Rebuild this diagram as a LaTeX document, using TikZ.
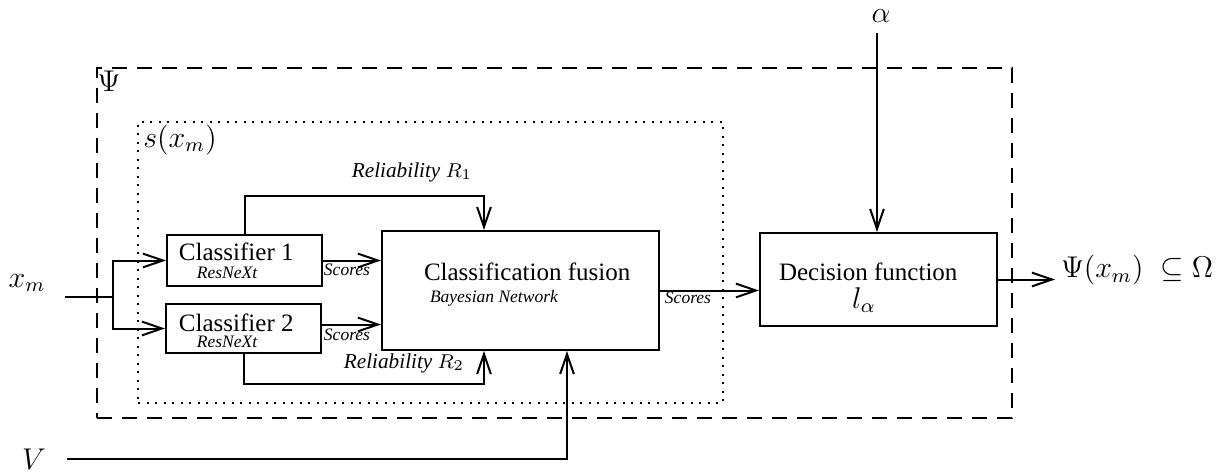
\documentclass[tikz,border=0pt]{standalone}
\usepackage[no-math]{fontspec}
\setmainfont{Liberation Serif}
\usetikzlibrary{arrows.meta,fit,calc}
\begin{document}
\begin{tikzpicture}[x=0.4pt,y=-0.4pt,
  line width=0.8pt,
  >={Straight Barb[length=8pt,width=5.5pt,line width=0.8pt]},
  box/.style={draw,inner sep=0pt},
  maintxt/.style={font=\fontsize{10}{12}\selectfont,inner sep=0pt},
  subtxt/.style={font=\fontsize{7}{8}\selectfont\itshape,inner sep=0pt},
  reltxt/.style={font=\fontsize{8.5}{10}\selectfont\itshape,inner sep=0pt},
  mathlbl/.style={font=\fontsize{12}{14}\selectfont,inner sep=0pt},
  outerbox/.style={draw,dash pattern=on 6pt off 4pt,line width=0.7pt},
  innerbox/.style={draw,dash pattern=on 0.8pt off 2.6pt,line width=0.8pt}
]
\useasboundingbox (0,0) rectangle (1229,473);
% containers
\node[outerbox,inner sep=0pt,fit={(97,68)(1012,418)}] (psi) {};
\node[innerbox,inner sep=0pt,fit={(138,122)(723,403)}] (sx) {};
\node[mathlbl] (psil) at (109,81) {$\Psi$};
\node[mathlbl] (sxl) at (180,140) {$s(x_m)$};
% blocks
\node[box,fit={(167,235)(322,286)}] (c1) {};
\node[box,fit={(166,304)(321,353)}] (c2) {};
\node[box,fit={(382,231)(659,350)}] (fus) {};
\node[box,fit={(760,233)(997,326)}] (dec) {};
% block texts
\node[maintxt,anchor=west] (c1t) at (178,252) {Classifier 1};
\node[subtxt] (c1s) at (227,273) {ResNeXt};
\node[maintxt,anchor=west] (c2t) at (178,323) {Classifier 2};
\node[subtxt] (c2s) at (227,342) {ResNeXt};
\node[maintxt,anchor=west] (fust) at (423,272) {Classification fusion};
\node[subtxt,anchor=west] (fuss) at (429,298) {Bayesian Network};
\node[maintxt,anchor=west] (dect) at (778,272) {Decision function};
\node[mathlbl] (decs) at (864,300) {$l_\alpha$};
% input / output labels
\node[mathlbl] (xm) at (27,283) {$x_m$};
\node[mathlbl] (vl) at (34,459) {$V$};
\node[mathlbl] (al) at (881,16) {$\alpha$};
\node[mathlbl,anchor=west] (outl) at (1060,270) {$\Psi(x_m)\;\subseteq\Omega$};
% connector coordinates
\coordinate (in) at (65,297);
\coordinate (split) at (113,297);
\coordinate (r1) at (484,196);
\coordinate (r2) at (484,384);
\coordinate (v) at (67,459);
\coordinate (vc) at (567,459);
\coordinate (a) at (877,33);
\coordinate (out) at (1055,279.5);
% connectors
\draw (in) -- (split);
\draw[->] (split) |- (c1.west);
\draw[->] (split) |- (c2.west);
\draw[->] (c1.east) -- (c1.east -| fus.west);
\draw[->] ($(c2.east)+(0,-4)$) -- ($(c2.east -| fus.west)+(0,-4)$);
\draw[->] (c1.north) |- (r1) -- (r1 |- fus.north);
\draw[->] (c2.south) |- (r2) -- (r2 |- fus.south);
\draw[->] (v) -- (vc) -- (vc |- fus.south);
\draw[->] (fus.east) -- (fus.east -| dec.west);
\draw[->] (a) -- (a |- dec.north);
\draw[->] (dec.east) -- (out);
% connector labels
\node[subtxt] (sc1) at (347,270) {Scores};
\node[subtxt] (sc2) at (347,335) {Scores};
\node[subtxt] (sc3) at (688,298) {Scores};
\node[reltxt] (rl1) at (412,172) {Reliability $R_1$};
\node[reltxt] (rl2) at (404,363) {Reliability $R_2$};
\end{tikzpicture}
\end{document}
